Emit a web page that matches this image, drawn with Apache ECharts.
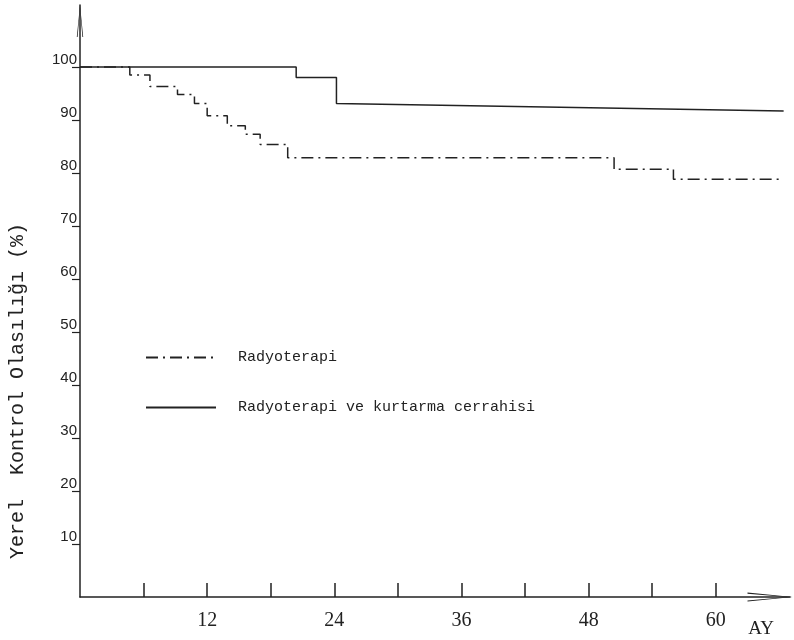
<!DOCTYPE html>
<html><head><meta charset="utf-8">
<script src="https://cdn.jsdelivr.net/npm/echarts@6/dist/echarts.min.js"></script>
<style>html,body{margin:0;padding:0;background:#fff}#c{width:794px;height:640px}</style>
</head><body><div id="c"></div>
<script>
// ---- data ----
const seriesNames = ['Radyoterapi', 'Radyoterapi ve kurtarma cerrahisi'];
// Radyoterapi (step curve): time (months) of each step and value after it
const rtTimes  = [0, 4.7, 6.6, 9.2, 10.8, 12.0, 13.9, 15.6, 17.0, 19.6, 50.4, 56.0];
const rtValues = [100, 98.5, 96.3, 94.8, 93.1, 90.8, 88.9, 87.3, 85.4, 82.9, 80.7, 78.8];
const rtEnd = [66.4, 78.8];
// Radyoterapi ve kurtarma cerrahisi
const rtcTimes  = [0, 20.4, 24.2];
const rtcValues = [100, 98.0, 93.1];
const rtcEnd = [66.4, 91.7];
// axes
const xTicks = [6, 12, 18, 24, 30, 36, 42, 48, 54, 60];
const xLabels = [12, 24, 36, 48, 60];
const yTicks = [10, 20, 30, 40, 50, 60, 70, 80, 90, 100];
const xName = 'AY';
const yName = 'Yerel  Kontrol Olasılığı (%)';

function stepPoints(times, values, end) {
  const pts = [];
  for (let i = 0; i < times.length; i++) {
    pts.push([times[i], values[i]]);
    if (i + 1 < times.length) pts.push([times[i + 1], values[i]]);
  }
  pts.push(end);
  return pts;
}

const ink = '#222';
const chevron = 'path://M0,40 L4,0 L8,40 L7,40 L4,5 L1,40 Z';

const chart = echarts.init(document.getElementById('c'), null, {renderer: 'canvas'});
chart.setOption({
  animation: false,
  backgroundColor: '#fff',
  grid: {left: 80, right: 4, top: 5, bottom: 43, outerBoundsMode: 'none', containLabel: false},
  legend: {
    orient: 'vertical', left: 140, top: 345, itemWidth: 70, itemHeight: 14, itemGap: 35,
    data: seriesNames,
    itemStyle: {opacity: 0},
    textStyle: {fontFamily: 'Liberation Mono', fontSize: 15, color: ink, padding: [0, 0, 0, 17]},
    inactiveColor: ink
  },
  xAxis: {
    type: 'value', min: 0, max: 67,
    name: xName, nameLocation: 'end', nameGap: -29,
    nameTextStyle: {fontFamily: 'Liberation Serif', fontSize: 19, color: ink, align: 'center', verticalAlign: 'top', padding: [23, 0, 0, 0]},
    axisLine: {show: true, onZero: false, symbol: ['none', chevron], symbolSize: [10, 45], symbolOffset: [0, -20], lineStyle: {color: ink, width: 1.5}},
    axisTick: {show: true, inside: true, length: 14, customValues: xTicks, lineStyle: {color: ink, width: 1.5}},
    axisLabel: {customValues: xLabels, margin: 14, fontFamily: 'Liberation Serif', fontSize: 20, color: ink},
    splitLine: {show: false}
  },
  yAxis: {
    type: 'value', min: 0, max: 111.7,
    axisLine: {show: true, onZero: false, symbol: ['none', chevron], symbolSize: [7, 32], symbolOffset: [0, -16], lineStyle: {color: ink, width: 1.5}},
    axisTick: {show: true, inside: false, length: 8, customValues: yTicks, lineStyle: {color: ink, width: 1.2}},
    axisLabel: {customValues: yTicks, margin: 3, verticalAlign: 'bottom', fontFamily: 'Liberation Sans', fontSize: 15, color: ink},
    splitLine: {show: false}
  },
  graphic: [{
    type: 'text', x: 18, y: 391, rotation: Math.PI / 2,
    style: {text: yName, font: '20px "Liberation Mono"', fill: ink, align: 'center', verticalAlign: 'middle'}
  }],
  series: [
    {
      name: seriesNames[0], type: 'line', symbol: 'none', showSymbol: false,
      data: stepPoints(rtTimes, rtValues, rtEnd),
      lineStyle: {color: ink, width: 1.5, type: [12, 5, 2, 5]},
      itemStyle: {color: ink}
    },
    {
      name: seriesNames[1], type: 'line', symbol: 'none', showSymbol: false,
      data: stepPoints(rtcTimes, rtcValues, rtcEnd),
      lineStyle: {color: ink, width: 1.5, type: 'solid'},
      itemStyle: {color: ink}
    }
  ]
});
</script>
</body></html>
